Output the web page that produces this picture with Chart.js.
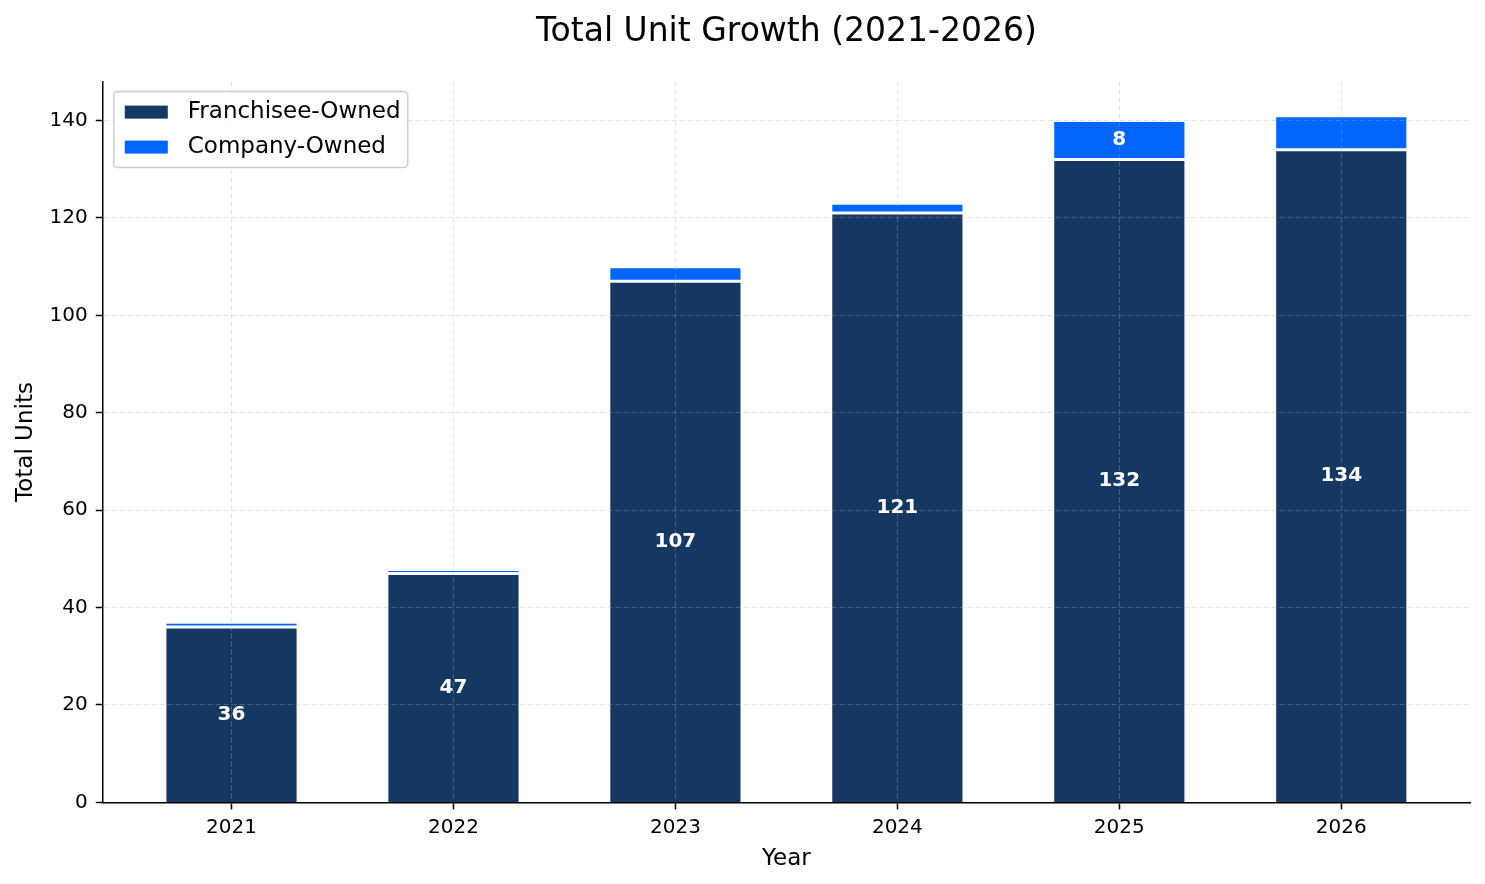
<!DOCTYPE html>
<html>
<head>
<meta charset="utf-8">
<script src="https://cdn.jsdelivr.net/npm/chart.js@4.4.1/dist/chart.umd.min.js"></script>
<style>
  html, body { margin: 0; padding: 0; background: #fff; }
  #wrap { width: 1485px; height: 884px; position: relative; }
</style>
</head>
<body>
<div id="wrap"><canvas id="myChart"></canvas></div>
<script>
// datos
var years = ["2021", "2022", "2023", "2024", "2025", "2026"];
var franchisee = [36, 47, 107, 121, 132, 134];
var company = [1, 0.8, 3, 2, 8, 7];
var yTicks = [0, 20, 40, 60, 80, 100, 120, 140];

var navy = "#143861";
var blue = "#0066ff";
var gridColor = "rgba(175,175,175,0.35)";

Chart.defaults.font.family = "'DejaVu Sans', sans-serif";
Chart.defaults.color = "#000";

function puntos(valores){
    return valores.map(function(v, i){ return { x: i, y: v }; });
}

// etiquetas blancas dentro de las barras
var etiquetas = {
    id: "etiquetas",
    afterDraw: function(chart){
        var ctx = chart.ctx;
        ctx.save();
        ctx.fillStyle = "#fff";
        ctx.font = "bold 20px 'DejaVu Sans'";
        ctx.textAlign = "center";
        ctx.textBaseline = "middle";
        chart.data.datasets.forEach(function(ds, d){
            var meta = chart.getDatasetMeta(d);
            meta.data.forEach(function(bar, i){
                var v = ds.data[i].y;
                if (v < 7.5) return; // las pequeñas no llevan numero
                var mid = (bar.y + bar.base) / 2;
                ctx.fillText(String(v), bar.x, mid);
            });
        });
        ctx.restore();
    }
};

// leyenda dentro del area del grafico
var leyenda = {
    id: "leyenda",
    afterDraw: function(chart){
        var ctx = chart.ctx;
        var a = chart.chartArea;
        var x = a.left + 11, y = a.top + 10, w = 294, h = 76;
        ctx.save();
        ctx.fillStyle = "rgba(255,255,255,0.85)";
        ctx.strokeStyle = "#cccccc";
        ctx.lineWidth = 1.5;
        ctx.beginPath();
        ctx.roundRect(x, y, w, h, 4);
        ctx.fill();
        ctx.stroke();
        ctx.font = "23px 'DejaVu Sans'";
        ctx.textBaseline = "middle";
        chart.data.datasets.forEach(function(ds, d){
            var cy = y + 20 + d * 35;
            ctx.fillStyle = ds.backgroundColor;
            ctx.fillRect(x + 11, cy - 6, 43, 13);
            ctx.fillStyle = "#000";
            ctx.fillText(ds.label, x + 74, cy);
        });
        ctx.restore();
    }
};

var ctx = document.getElementById("myChart").getContext("2d");
var myChart = new Chart(ctx, {
    type: "bar",
    data: {
        datasets: [
            {
                label: "Franchisee-Owned",
                data: puntos(franchisee),
                backgroundColor: navy,
                borderColor: "#fff",
                borderWidth: 1.5,
                borderSkipped: "start",
                barPercentage: 0.6,
                categoryPercentage: 1
            },
            {
                label: "Company-Owned",
                data: puntos(company),
                backgroundColor: blue,
                borderColor: "#fff",
                borderWidth: 1.5,
                borderSkipped: false,
                barPercentage: 0.6,
                categoryPercentage: 1
            }
        ]
    },
    options: {
        responsive: true,
        maintainAspectRatio: false,
        animation: false,
        layout: { padding: { left: 12, right: 15, top: 6, bottom: 11 } },
        plugins: {
            legend: { display: false },
            tooltip: { enabled: false },
            title: {
                display: true,
                fullSize: false,
                text: "Total Unit Growth (2021-2026)",
                font: { size: 33, weight: "normal" },
                color: "#000",
                padding: { top: 7, bottom: 29 }
            }
        },
        scales: {
            x: {
                type: "linear",
                stacked: true,
                offset: false,
                min: -0.58,
                max: 5.58,
                z: 1,
                afterBuildTicks: function(scale){
                    scale.ticks = years.map(function(_, i){ return { value: i }; });
                },
                ticks: {
                    font: { size: 20 },
                    color: "#000",
                    padding: 6,
                    callback: function(v){ return years[v]; }
                },
                grid: {
                    z: 1,
                    offset: false,
                    color: gridColor,
                    lineWidth: 1,
                    tickColor: "#000",
                    tickLength: 7,
                    tickWidth: 1.5,
                    tickBorderDash: []
                },
                border: { display: true, z: 2, color: "#000", width: 1.5, dash: [5, 3] },
                title: {
                    display: true,
                    text: "Year",
                    font: { size: 23 },
                    color: "#000",
                    padding: { top: 0, bottom: 0 }
                }
            },
            y: {
                stacked: true,
                min: 0,
                max: 148,
                z: 1,
                afterBuildTicks: function(scale){
                    scale.ticks = yTicks.map(function(v){ return { value: v }; });
                },
                ticks: {
                    font: { size: 20 },
                    color: "#000",
                    padding: 8
                },
                grid: {
                    z: 1,
                    color: gridColor,
                    lineWidth: 1,
                    tickColor: "#000",
                    tickLength: 7,
                    tickWidth: 1.5,
                    tickBorderDash: []
                },
                border: { display: true, z: 2, color: "#000", width: 1.5, dash: [5, 3] },
                title: {
                    display: true,
                    text: "Total Units",
                    font: { size: 23 },
                    color: "#000",
                    padding: { top: 0, bottom: 2 }
                }
            }
        }
    },
    plugins: [etiquetas, leyenda]
});
</script>
</body>
</html>
